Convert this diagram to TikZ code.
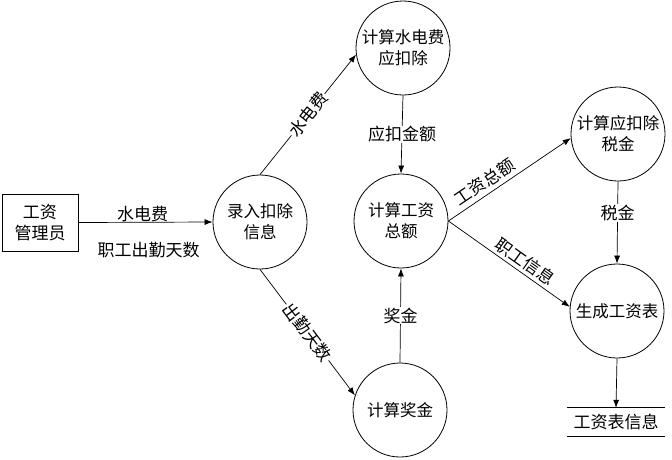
\documentclass[tikz,border=0pt]{standalone}
\usepackage{fontspec}
\setmainfont{Noto Sans CJK SC}
\usetikzlibrary{arrows.meta}
\begin{document}
\begin{tikzpicture}[x=1pt,y=-1pt,
  proc/.style={circle, draw, line width=0.8pt, minimum size=94pt, inner sep=0pt, align=center, font=\fontsize{16.5}{21}\selectfont},
  flow/.style={draw, line width=0.7pt, -{Latex[length=8pt,width=6pt]}},
  lbl/.style={font=\fontsize{17}{20}\selectfont, fill=white, inner sep=1pt},
  olbl/.style={font=\fontsize{17}{20}\selectfont, inner sep=1pt},
  ent/.style={draw, line width=0.8pt, minimum width=76pt, minimum height=57pt, align=center, font=\fontsize{17}{21}\selectfont},
  store/.style={minimum width=98pt, minimum height=28pt, inner sep=0pt, font=\fontsize{17}{20}\selectfont}
]
\useasboundingbox (0,0) rectangle (672,459);
\node[ent] (box) at (40,222.5) {工资\\管理员};
\node[proc] (lr) at (260,222) {录入扣除\\信息};
\node[proc] (sd) at (403,48) {计算水电费\\应扣除};
\node[proc] (gz) at (401,221) {计算工资\\总额};
\node[proc] (jj) at (400,410) {计算奖金};
\node[proc] (sj) at (618,134) {计算应扣除\\税金};
\node[proc] (sc) at (617,311) {生成工资表};
\node[store] (st) at (616,422) {工资表信息};
\draw[line width=0.8pt] (st.north west) -- (st.north east);
\draw[line width=0.8pt] (st.south west) -- (st.south east);

\draw[flow] (box.east) -- (lr.west)
  node[olbl, midway, above, inner sep=0pt, xshift=-3pt] {水电费}
  node[olbl, midway, below, yshift=-19pt, xshift=3pt] {职工出勤天数};
\draw[flow] (lr.north) -- (sd.188) node[lbl, midway, sloped] {水电费};
\draw[flow] (lr.south) -- (jj.162) node[lbl, midway, sloped] {出勤天数};
\draw[flow] (sd.south) -- (gz.north) node[lbl, midway] {应扣金额};
\draw[flow] (jj.north) -- (gz.south) node[lbl, midway] {奖金};
\draw[flow] (gz.east) -- (sj.185) node[olbl, pos=0.35, sloped, above=3pt] {工资总额};
\draw[flow] (gz.east) -- (sc.175) node[olbl, pos=0.58, sloped, above=2pt] {职工信息};
\draw[flow] (sj.south) -- (sc.north) node[lbl, pos=0.38] {税金};
\draw[flow] (sc.south) -- (st.north);
\end{tikzpicture}
\end{document}
